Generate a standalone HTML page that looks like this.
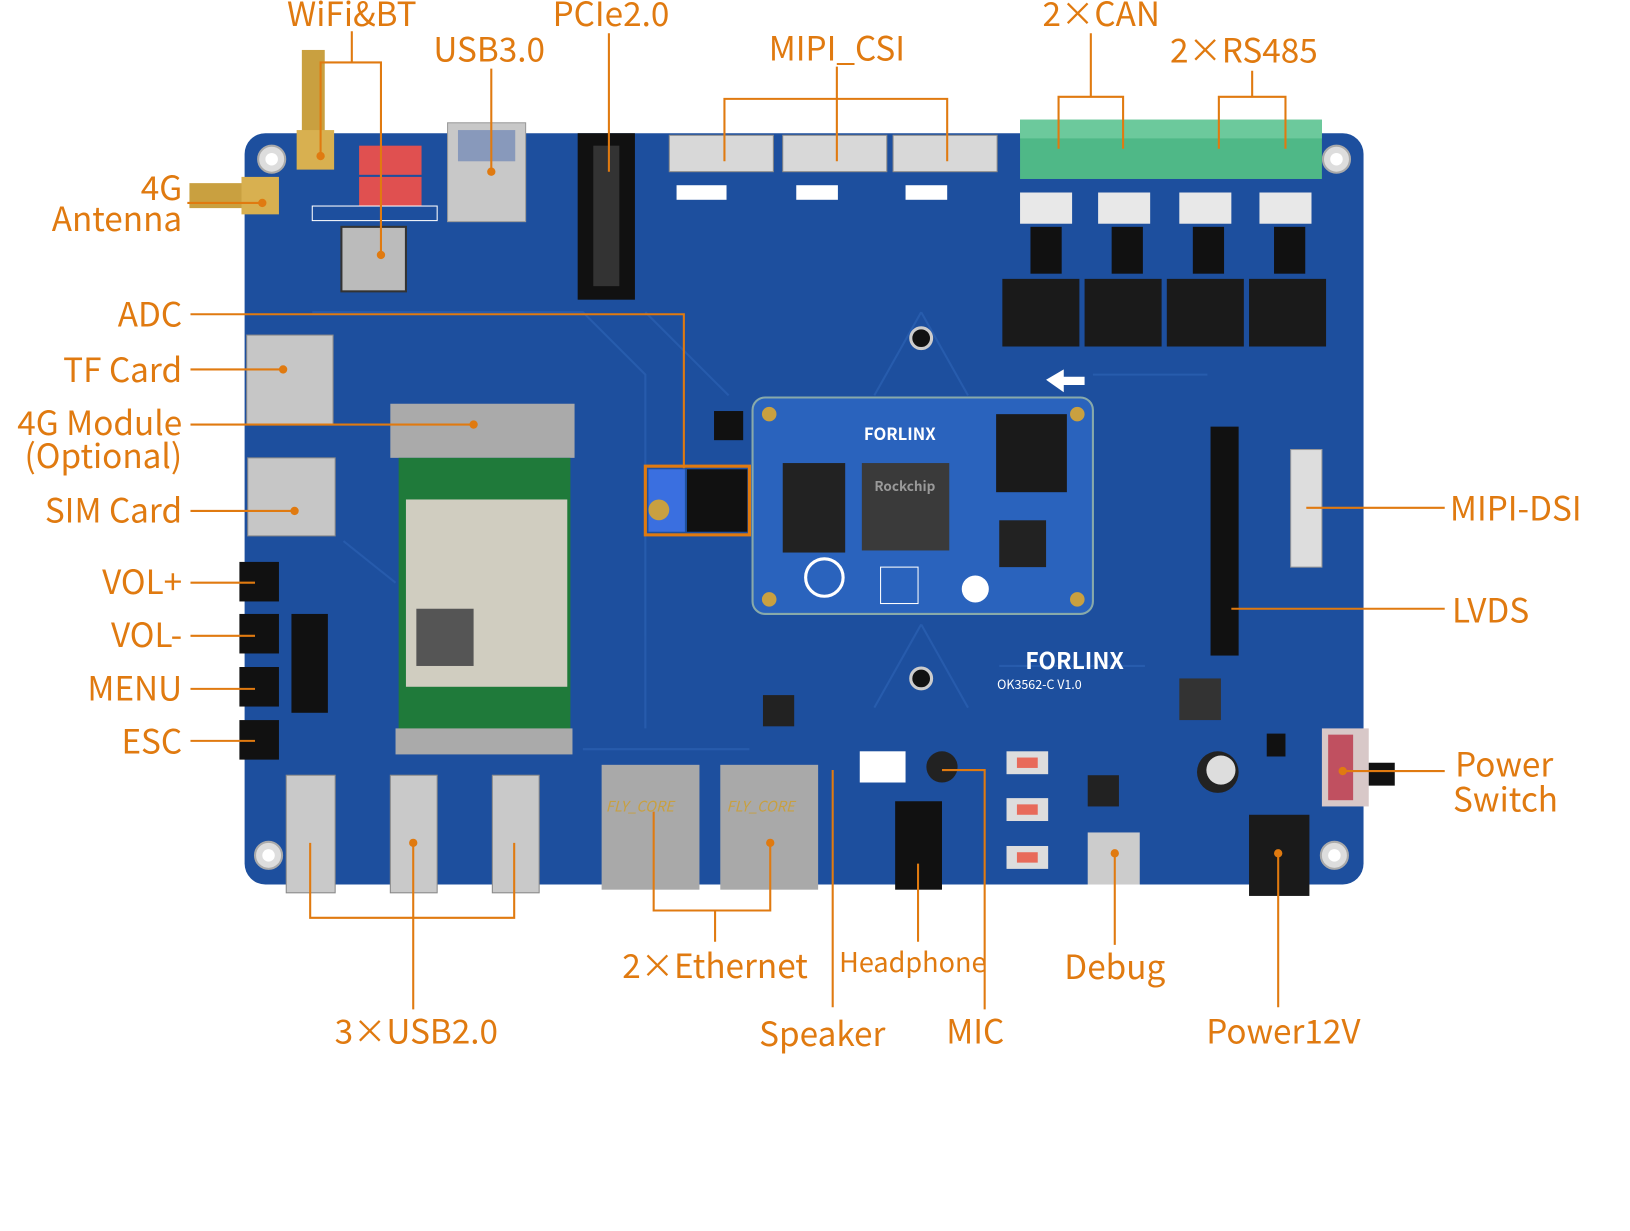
<!DOCTYPE html>
<html><head><meta charset="utf-8"><style>
html,body{margin:0;padding:0;background:#fff;}
svg{display:block;}
text{font-family:"Noto Sans CJK SC","Liberation Sans",sans-serif;fill:#e07a10;}
</style></head><body>
<svg width="1630" height="1231" viewBox="0 0 1566 1183" preserveAspectRatio="none" xmlns="http://www.w3.org/2000/svg">
<rect width="1566" height="1183" fill="#fff"/>
<rect x="235" y="128" width="1075" height="722" rx="20" fill="#1d4f9e"/>
<g stroke="#2a5fb0" stroke-width="2" fill="none" opacity="0.8">
<path d="M300 300 L560 300 L620 360 L620 700"/><path d="M620 300 L700 380"/><path d="M1050 360 L1160 360"/>
<path d="M330 520 L380 560"/><path d="M560 720 L720 720"/><path d="M960 640 L1100 640"/>
<path d="M885 300 L840 380 M885 300 L930 380 M885 600 L840 680 M885 600 L930 680"/>
</g>
<g fill="#ddd" stroke="#aaa" stroke-width="2"><circle cx="261" cy="153" r="13"/><circle cx="1284" cy="153" r="13"/><circle cx="1282" cy="822" r="13"/><circle cx="258" cy="822" r="13"/></g>
<g fill="#fff"><circle cx="261" cy="153" r="6"/><circle cx="1284" cy="153" r="6"/><circle cx="1282" cy="822" r="6"/><circle cx="258" cy="822" r="6"/></g>
<circle cx="885" cy="325" r="10" fill="#111" stroke="#ccc" stroke-width="3"/><circle cx="885" cy="652" r="10" fill="#111" stroke="#ccc" stroke-width="3"/>
<rect x="290" y="48" width="22" height="85" fill="#c9a040"/><rect x="285" y="125" width="36" height="38" fill="#d8b050"/>
<rect x="182" y="176" width="60" height="24" fill="#c9a040"/><rect x="232" y="170" width="36" height="36" fill="#d8b050"/>
<rect x="345" y="140" width="60" height="28" fill="#e05050"/><rect x="345" y="170" width="60" height="28" fill="#e05050"/>
<rect x="300" y="198" width="120" height="14" fill="none" stroke="#fff" stroke-width="1"/>
<rect x="328" y="218" width="62" height="62" fill="#bbb" stroke="#333" stroke-width="2"/>
<rect x="430" y="118" width="75" height="95" fill="#c8c8c8" stroke="#999"/><rect x="440" y="125" width="55" height="30" fill="#8899bb"/>
<rect x="555" y="128" width="55" height="160" fill="#111"/><rect x="570" y="140" width="25" height="135" fill="#333"/>
<g fill="#d8d8d8" stroke="#888"><rect x="643" y="130" width="100" height="35"/><rect x="752" y="130" width="100" height="35"/><rect x="858" y="130" width="100" height="35"/></g>
<rect x="650" y="178" width="48" height="14" fill="#fff"/><rect x="765" y="178" width="40" height="14" fill="#fff"/><rect x="870" y="178" width="40" height="14" fill="#fff"/>
<rect x="980" y="115" width="290" height="57" fill="#4fb887"/><rect x="980" y="115" width="290" height="18" fill="#6cc99c"/>
<g fill="#e8e8e8"><rect x="980" y="185" width="50" height="30"/><rect x="1055" y="185" width="50" height="30"/><rect x="1133" y="185" width="50" height="30"/><rect x="1210" y="185" width="50" height="30"/></g>
<g fill="#111"><rect x="990" y="218" width="30" height="45"/><rect x="1068" y="218" width="30" height="45"/><rect x="1146" y="218" width="30" height="45"/><rect x="1224" y="218" width="30" height="45"/></g>
<g fill="#1a1a1a"><rect x="963" y="268" width="74" height="65"/><rect x="1042" y="268" width="74" height="65"/><rect x="1121" y="268" width="74" height="65"/><rect x="1200" y="268" width="74" height="65"/></g>
<path d="M1005 365 L1022 355 L1022 362 L1042 362 L1042 370 L1022 370 L1022 377 Z" fill="#fff"/>
<rect x="237" y="322" width="83" height="86" fill="#c6c6c6" stroke="#888"/>
<rect x="238" y="440" width="84" height="75" fill="#c6c6c6" stroke="#888"/>
<rect x="375" y="388" width="177" height="52" fill="#aaa"/>
<rect x="383" y="440" width="165" height="262" fill="#1f7a3a"/>
<rect x="390" y="480" width="155" height="180" fill="#d0cdc0"/>
<rect x="400" y="585" width="55" height="55" fill="#555"/>
<rect x="380" y="700" width="170" height="25" fill="#aaa"/>
<g fill="#111"><rect x="230" y="540" width="38" height="38"/><rect x="230" y="590" width="38" height="38"/><rect x="230" y="641" width="38" height="38"/><rect x="230" y="692" width="38" height="38"/></g>
<rect x="280" y="590" width="35" height="95" fill="#111"/>
<rect x="620" y="448" width="100" height="66" fill="none" stroke="#e07a10" stroke-width="3"/>
<rect x="623" y="451" width="35" height="60" fill="#3a6fe0"/><circle cx="633" cy="490" r="10" fill="#c9a040"/>
<rect x="660" y="451" width="58" height="60" fill="#111"/>
<rect x="686" y="395" width="28" height="28" fill="#111"/>
<rect x="723" y="382" width="327" height="208" rx="12" fill="#2a63bd" stroke="#8aa" stroke-width="2"/>
<g fill="#c9a040"><circle cx="739" cy="398" r="7"/><circle cx="1035" cy="398" r="7"/><circle cx="739" cy="576" r="7"/><circle cx="1035" cy="576" r="7"/></g>
<rect x="752" y="445" width="60" height="86" fill="#222"/>
<rect x="828" y="445" width="84" height="84" fill="#3a3a3a"/>
<rect x="957" y="398" width="68" height="75" fill="#1a1a1a"/>
<rect x="960" y="500" width="45" height="45" fill="#222"/>
<text x="830" y="423" font-size="16" font-weight="bold" style="fill:#fff">FORLINX</text>
<text x="840" y="472" font-size="13" font-weight="bold" style="fill:#999">Rockchip</text>
<circle cx="792" cy="555" r="18" fill="none" stroke="#fff" stroke-width="3"/>
<circle cx="937" cy="566" r="13" fill="#fff"/>
<rect x="846" y="545" width="36" height="35" fill="none" stroke="#fff"/>
<text x="985" y="643" font-size="22" font-weight="bold" style="fill:#fff">FORLINX</text>
<text x="958" y="662" font-size="12" style="fill:#fff">OK3562-C        V1.0</text>
<rect x="1163" y="410" width="27" height="220" fill="#111"/>
<rect x="1240" y="432" width="30" height="113" fill="#ddd" stroke="#999"/>
<rect x="1133" y="652" width="40" height="40" fill="#333"/>
<circle cx="1170" cy="742" r="20" fill="#222"/><circle cx="1173" cy="740" r="14" fill="#ddd"/>
<rect x="1270" y="700" width="45" height="75" fill="#d8c8c8"/><rect x="1276" y="706" width="24" height="63" fill="#c05060"/>
<rect x="1315" y="733" width="25" height="22" fill="#111"/>
<rect x="1200" y="783" width="58" height="78" fill="#1a1a1a"/>
<rect x="1217" y="705" width="18" height="22" fill="#111"/>
<rect x="733" y="668" width="30" height="30" fill="#222"/>
<rect x="826" y="722" width="44" height="30" fill="#fff"/>
<circle cx="905" cy="737" r="15" fill="#222"/>
<g fill="#ddd"><rect x="967" y="722" width="40" height="22"/><rect x="967" y="767" width="40" height="22"/><rect x="967" y="813" width="40" height="22"/></g>
<g fill="#e86a5a"><rect x="977" y="728" width="20" height="10"/><rect x="977" y="773" width="20" height="10"/><rect x="977" y="819" width="20" height="10"/></g>
<rect x="1045" y="745" width="30" height="30" fill="#222"/>
<rect x="1045" y="800" width="50" height="50" fill="#ccc"/>
<rect x="860" y="770" width="45" height="85" fill="#111"/>
<g fill="#c9c9c9" stroke="#888"><rect x="275" y="745" width="47" height="113"/><rect x="375" y="745" width="45" height="113"/><rect x="473" y="745" width="45" height="113"/></g>
<rect x="578" y="735" width="94" height="120" fill="#a9a9a9"/><rect x="692" y="735" width="94" height="120" fill="#a9a9a9"/>
<g font-size="14" font-style="italic"><text x="582" y="780" style="fill:#c8a040">FLY_CORE</text><text x="698" y="780" style="fill:#c8a040">FLY_CORE</text></g>
<g stroke="#e07a10" stroke-width="2" fill="none">
<path d="M338 30V60M308 150V60H366V245"/>
<path d="M472 66V165"/>
<path d="M585 32V165"/>
<path d="M804 64V95M696 155V95H910V155M804 95V155"/>
<path d="M1048 32V93M1017 143V93H1079V143"/>
<path d="M1203 68V93M1171 143V93H1235V143"/>
<path d="M180 195H252"/>
<path d="M183 302H657V450"/>
<path d="M183 355H272"/>
<path d="M183 408H455"/>
<path d="M183 491H283"/>
<path d="M183 560H245M183 611H245M183 662H245M183 712H245"/>
<path d="M1255 488H1388"/>
<path d="M1183 585H1388"/>
<path d="M1290 741H1388"/>
<path d="M298 810V882H494V810M397 810V970"/>
<path d="M628 780V875H740V810M687 875V905"/>
<path d="M882 830V905"/>
<path d="M800 740V968"/>
<path d="M905 740H946V970"/>
<path d="M1071 820V908"/>
<path d="M1228 820V968"/>
</g>
<g fill="#e07a10"><circle cx="308" cy="150" r="4"/><circle cx="366" cy="245" r="4"/><circle cx="472" cy="165" r="4"/><circle cx="252" cy="195" r="4"/><circle cx="272" cy="355" r="4"/><circle cx="455" cy="408" r="4"/><circle cx="283" cy="491" r="4"/><circle cx="1290" cy="741" r="4"/><circle cx="1228" cy="820" r="4"/><circle cx="1071" cy="820" r="4"/><circle cx="397" cy="810" r="4"/><circle cx="740" cy="810" r="4"/></g>
<g font-size="32">
<text x="338" y="25" text-anchor="middle">WiFi&amp;BT</text>
<text x="470" y="59" text-anchor="middle">USB3.0</text>
<text x="587" y="25" text-anchor="middle">PCIe2.0</text>
<text x="804" y="58" text-anchor="middle">MIPI_CSI</text>
<text x="1058" y="25" text-anchor="middle">2×CAN</text>
<text x="1195" y="60" text-anchor="middle">2×RS485</text>
<text x="175" y="192" text-anchor="end">4G</text>
<text x="175" y="222" text-anchor="end">Antenna</text>
<text x="175" y="314" text-anchor="end">ADC</text>
<text x="175" y="367" text-anchor="end">TF Card</text>
<text x="175" y="418" text-anchor="end">4G Module</text>
<text x="175" y="450" text-anchor="end">(Optional)</text>
<text x="175" y="502" text-anchor="end">SIM Card</text>
<text x="175" y="571" text-anchor="end">VOL+</text>
<text x="175" y="622" text-anchor="end">VOL-</text>
<text x="175" y="673" text-anchor="end">MENU</text>
<text x="175" y="724" text-anchor="end">ESC</text>
<text x="1393" y="500">MIPI-DSI</text>
<text x="1395" y="598">LVDS</text>
<text x="1398" y="746">Power</text>
<text x="1396" y="780">Switch</text>
<text x="400" y="1003" text-anchor="middle">3×USB2.0</text>
<text x="687" y="940" text-anchor="middle">2×Ethernet</text>
<text x="790" y="1005" text-anchor="middle">Speaker</text>
<text x="937" y="1003" text-anchor="middle">MIC</text>
<text x="1071" y="941" text-anchor="middle">Debug</text>
<text x="1233" y="1003" text-anchor="middle">Power12V</text>
</g>
<text x="877" y="934" text-anchor="middle" font-size="26">Headphone</text>
</svg>
</body></html>
